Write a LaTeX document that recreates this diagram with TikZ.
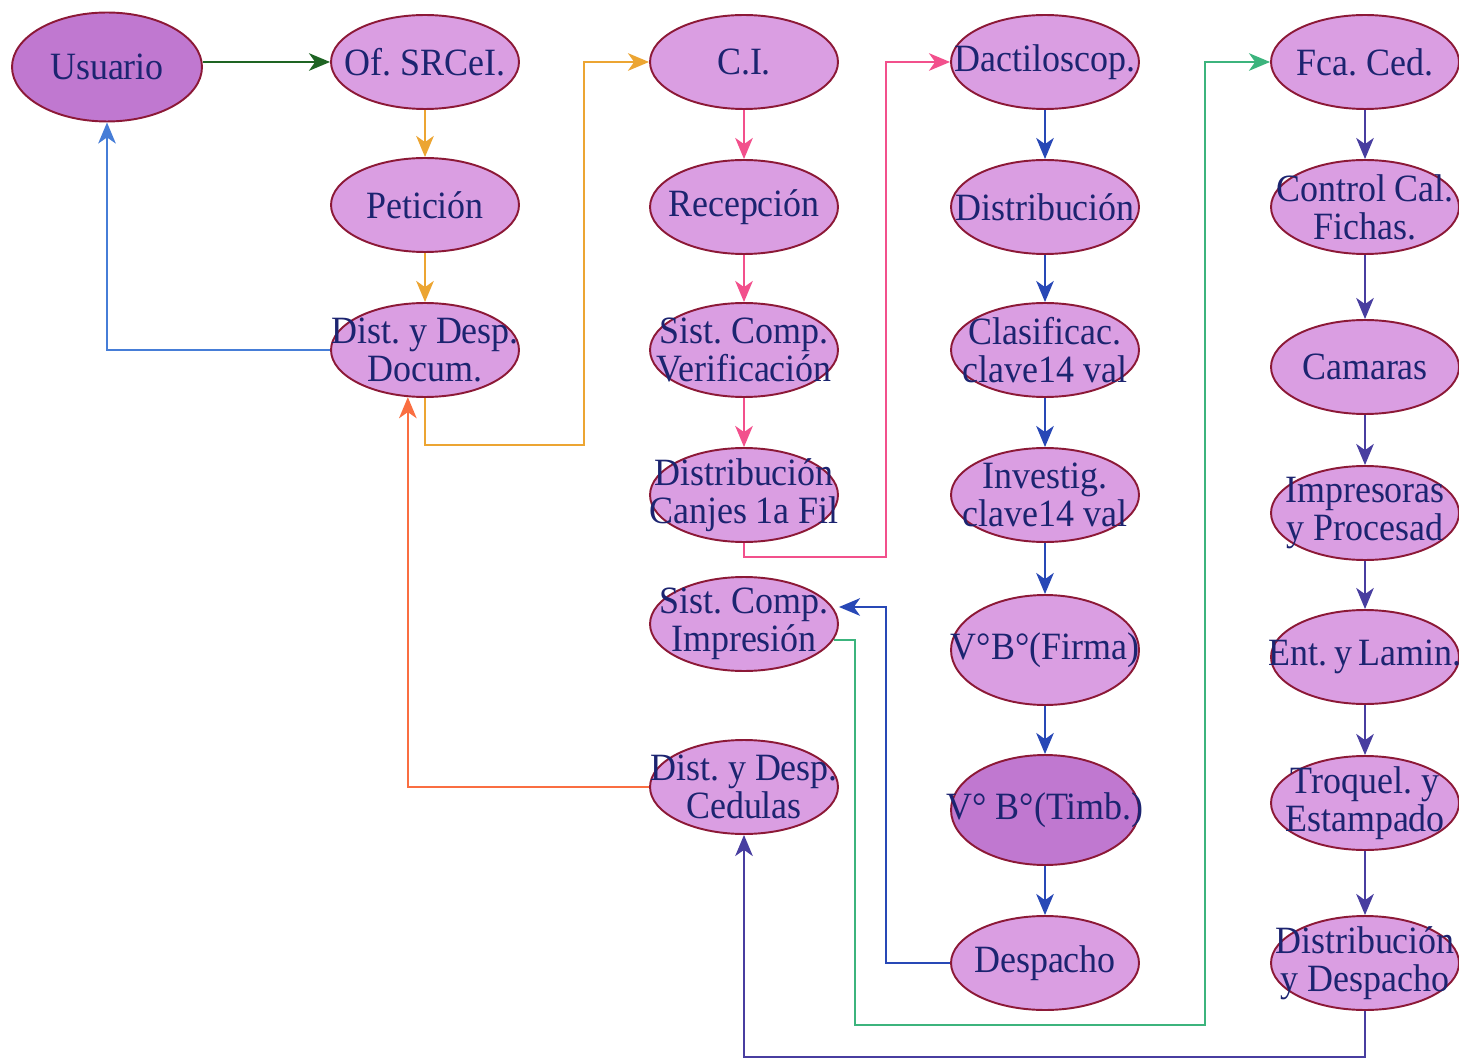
\documentclass[tikz,border=0pt]{standalone}
\usepackage{fontspec}
\setmainfont{Liberation Serif}[FakeStretch=0.93]
\usepackage{tikz}
\usetikzlibrary{shapes.geometric,arrows.meta}
\frenchspacing

\definecolor{cellfill}{RGB}{218,158,226}
\definecolor{celldark}{RGB}{192,120,208}
\definecolor{cellline}{RGB}{140,25,55}
\definecolor{txtcol}{RGB}{28,36,112}
\definecolor{arrgreen}{RGB}{30,100,35}
\definecolor{arrorange}{RGB}{236,165,50}
\definecolor{arrsky}{RGB}{70,125,215}
\definecolor{arrpink}{RGB}{242,80,140}
\definecolor{arrblue}{RGB}{40,72,182}
\definecolor{arrteal}{RGB}{60,180,125}
\definecolor{arrindigo}{RGB}{72,62,160}
\definecolor{arrred}{RGB}{250,110,65}

\tikzset{
  cell/.style={ellipse, draw=cellline, fill=cellfill, line width=1.1pt,
    minimum width=3.76cm, minimum height=1.88cm, inner sep=0pt,
    label={[txt]center:{#1}}},
  tall/.style={minimum height=2.2cm},
  txt/.style={align=center, text=txtcol, inner sep=0pt,
    font=\fontsize{22}{21.6}\selectfont},
  flow/.style={line width=1.3pt, -{Stealth[length=12pt,width=10pt,inset=3.5pt]}}
}

\begin{document}
\begin{tikzpicture}[x=0.02cm, y=-0.02cm]
  \useasboundingbox (0,0) rectangle (1459,1060);

  % first column
  \node[cell={Usuario}, fill=celldark, minimum width=3.8cm, minimum height=2.18cm] (usr) at (107,67) {};
  \node[cell={Of. SRCeI.}] (ofi) at (425,62) {};
  \node[cell={Petición}] (pet) at (425,205) {};
  \node[cell={Dist. y Desp.\\Docum.}] (dd) at (425,350) {};

  % C.I. column
  \node[cell={C.I.}] (ci) at (744,62) {};
  \node[cell={Recepción}] (rec) at (744,207) {};
  \node[cell={Sist. Comp.\\Verificación}] (ver) at (744,350) {};
  \node[cell={Distribución\\Canjes 1a Fil}] (can) at (744,495) {};
  \node[cell={Sist. Comp.\\Impresión}] (imp) at (744,624) {};
  \node[cell={Dist. y Desp.\\Cedulas}] (ced) at (744,787) {};

  % Dactiloscop. column
  \node[cell={Dactiloscop.}] (dac) at (1045,62) {};
  \node[cell={Distribución}] (dis) at (1045,207) {};
  \node[cell={Clasificac.\\clave14 val}] (cla) at (1045,350) {};
  \node[cell={Investig.\\clave14 val}] (inv) at (1045,495) {};
  \node[cell={V°B°(Firma)}, tall] (vbf) at (1045,650) {};
  \node[cell={V° B°(Timb.)}, tall, fill=celldark] (vbt) at (1045,810) {};
  \node[cell={Despacho}] (des) at (1045,963) {};

  % Fca. Ced. column
  \node[cell={Fca. Ced.}] (fca) at (1365,62) {};
  \node[cell={Control Cal.\\Fichas.}] (con) at (1365,207) {};
  \node[cell={Camaras}] (cam) at (1365,367) {};
  \node[cell={Impresoras\\y Procesad}] (ipr) at (1365,513) {};
  \node[cell={Ent.\,y\,Lamin.}] (ent) at (1365,657) {};
  \node[cell={Troquel. y\\Estampado}] (tro) at (1365,803) {};
  \node[cell={Distribución\\y Despacho}] (dyd) at (1365,963) {};

  % bends
  \coordinate (k1) at (584,445);
  \coordinate (k2) at (886,557);
  \coordinate (k3) at (886,607);
  \coordinate (k4) at (855,1025);
  \coordinate (k5) at (1205,1025);
  \coordinate (k6) at (744,1057);

  \draw[flow, arrgreen] (usr.east |- ofi) -- (ofi.west);
  \draw[flow, arrorange] (ofi) -- (pet);
  \draw[flow, arrorange] (pet) -- (dd);
  \draw[flow, arrsky] (dd.west) -| (usr.south);
  \draw[flow, arrorange] (dd.south) |- (k1) |- (ci.west);

  \foreach \a/\b in {ci/rec, rec/ver, ver/can}
    \draw[flow, arrpink] (\a) -- (\b);
  \draw[flow, arrpink] (can.south) |- (k2) |- (dac.west);

  \foreach \a/\b in {dac/dis, dis/cla, cla/inv, inv/vbf, vbf/vbt, vbt/des}
    \draw[flow, arrblue] (\a) -- (\b);
  \draw[flow, arrblue] (des.west) -| (k3) -- (imp.east |- k3);

  \draw[flow, arrteal] (imp.-10) -| (k4) -- (k5) |- (fca.west);

  \foreach \a/\b in {fca/con, con/cam, cam/ipr, ipr/ent, ent/tro, tro/dyd}
    \draw[flow, arrindigo] (\a) -- (\b);
  \draw[flow, arrindigo] (dyd.south) |- (k6) -- (ced.south);

  \draw[flow, arrred] (ced.west) -| (dd.-110);
\end{tikzpicture}
\end{document}
